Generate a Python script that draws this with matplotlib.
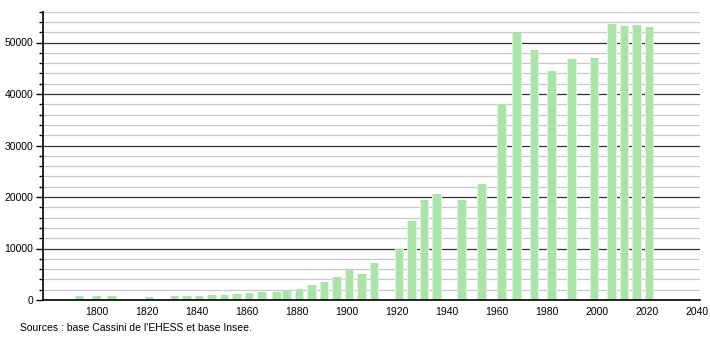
import matplotlib.pyplot as plt
from matplotlib.ticker import MultipleLocator

plt.rcParams["font.family"] = ["Liberation Sans", "DejaVu Sans"]

# census years and population
years = [1793, 1800, 1806, 1821, 1831, 1836, 1841, 1846, 1851, 1856,
         1861, 1866, 1872, 1876, 1881, 1886, 1891, 1896, 1901, 1906,
         1911, 1921, 1926, 1931, 1936, 1946, 1954, 1962, 1968, 1975,
         1982, 1990, 1999, 2006, 2011, 2016, 2021]
population = [700, 700, 700, 600, 700, 700, 700, 900, 1000, 1200,
              1400, 1500, 1600, 1800, 2100, 2900, 3500, 4400, 5900, 5000,
              7200, 10000, 15300, 19400, 20600, 19400, 22500, 38000, 51900, 48500,
              44400, 46800, 47000, 53600, 53200, 53400, 53000]

x_ticks = [1800, 1820, 1840, 1860, 1880, 1900, 1920, 1940, 1960, 1980, 2000, 2020, 2040]
source = "Sources : base Cassini de l'EHESS et base Insee."

fig = plt.figure(figsize=(7.1, 3.4), dpi=100)
ax = fig.add_axes([43 / 710, 1 - 300 / 340, 657 / 710, 288.4 / 340])

# gridlines sit behind the bars
ax.set_axisbelow(True)
ax.grid(axis="y", which="minor", color="#c8c8c8", linewidth=0.9)
ax.grid(axis="y", which="major", color="#333333", linewidth=0.9)

# soft halo then the bar itself
ax.bar(years, population, width=3.8, color="#dcf3dc", zorder=2)
ax.bar(years, population, width=3.0, color="#abe3ab", zorder=3)

ax.set_xlim(1778.4, 2041.2)
ax.set_ylim(0, 56000)

ax.yaxis.set_major_locator(MultipleLocator(10000))
ax.yaxis.set_minor_locator(MultipleLocator(2000))
ax.set_xticks(x_ticks)

for s in ["top", "right"]:
    ax.spines[s].set_visible(False)
ax.spines["left"].set_linewidth(1.2)
ax.spines["bottom"].set_linewidth(1.2)
ax.spines["left"].set_zorder(4)
ax.spines["bottom"].set_zorder(4)

ax.tick_params(axis="x", length=0, labelsize=7.5, pad=5)
ax.tick_params(axis="y", which="major", length=5, width=1, labelsize=7.5, pad=2)
ax.tick_params(axis="y", which="minor", length=3, width=1)

fig.text(20 / 710, 1 - 328 / 340, source, fontsize=7.5, va="center", ha="left")

fig.savefig("out.png", dpi=100)
